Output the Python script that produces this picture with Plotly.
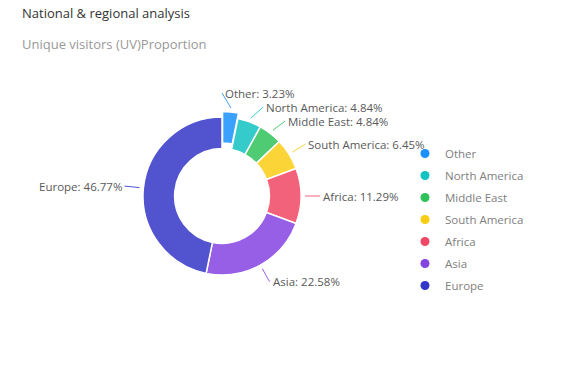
import math
import plotly.graph_objects as go

# ---- data ----
regions = ["Other", "North America", "Middle East", "South America", "Africa", "Asia", "Europe"]
visitors = [2, 3, 3, 4, 7, 14, 29]
base_colors = ["#1890FF", "#13C2C2", "#2FC25B", "#FACC14", "#F04864", "#8543E0", "#3436C7"]
pulls = [0.07, 0, 0, 0, 0, 0, 0]
title_text = "National & regional analysis"
subtitle_text = "Unique visitors (UV)Proportion"

# ---- layout constants (page pixels) ----
W, H = 571, 382
cx, cy, R = 222, 196, 79
HOLE = 0.6
SLICE_ALPHA = 0.85
FONT = "Open Sans"
LINE_START = 4
LINE_LEN = 19
LABEL_GAP = 14


def rgba(hexc, a):
    h = hexc.lstrip("#")
    r, g, b = int(h[0:2], 16), int(h[2:4], 16), int(h[4:6], 16)
    return f"rgba({r},{g},{b},{a})"


def px_to_paper(x, y):
    return x / W, 1 - y / H


total = sum(visitors)
pcts = [v / total * 100 for v in visitors]
maxpull = max(pulls)
Rd = R * (1 + maxpull)

fig = go.Figure()
x0d, y1d = px_to_paper(cx - Rd, cy - Rd)
x1d, y0d = px_to_paper(cx + Rd, cy + Rd)
fig.add_trace(go.Pie(
    labels=regions,
    values=visitors,
    sort=False,
    direction="clockwise",
    rotation=0,
    hole=HOLE,
    pull=pulls,
    textinfo="none",
    showlegend=False,
    marker=dict(colors=[rgba(c, SLICE_ALPHA) for c in base_colors],
                line=dict(color="white", width=1.5)),
    domain=dict(x=[x0d, x1d], y=[y0d, y1d]),
))

# legend entries with circular markers
for name, col in zip(regions, base_colors):
    fig.add_trace(go.Scatter(
        x=[None], y=[None], mode="markers", name=name, legendgroup=name,
        marker=dict(color=col, size=9, symbol="circle"),
    ))

# ---- label layout (radial, then de-overlap per side) ----
items = []
cum = 0
for name, v, p, col, pct in zip(regions, visitors, pulls, base_colors, pcts):
    mid = (cum + v / 2) / total * 2 * math.pi
    cum += v
    s, c = math.sin(mid), math.cos(mid)
    r0 = R * (1 + p) + LINE_START
    items.append(dict(name=name, col=col, pct=pct, s=s, c=c,
                      sx=cx + r0 * s, sy=cy - r0 * c,
                      y=cy - (R + LINE_LEN) * c, right=s >= 0))


def spread(group_items):
    group_items.sort(key=lambda d: d["y"])
    orig = [d["y"] for d in group_items]
    clusters = [[i] for i in range(len(orig))]

    def positions(cl):
        m = sum(orig[i] for i in cl) / len(cl)
        start = m - LABEL_GAP * (len(cl) - 1) / 2
        return [start + LABEL_GAP * k for k in range(len(cl))]

    changed = True
    while changed:
        changed = False
        pos = [positions(cl) for cl in clusters]
        for k in range(len(clusters) - 1):
            if pos[k + 1][0] - pos[k][-1] < LABEL_GAP:
                clusters[k] = clusters[k] + clusters[k + 1]
                del clusters[k + 1]
                changed = True
                break
    for cl in clusters:
        for i, y in zip(cl, positions(cl)):
            group_items[i]["y"] = y


spread([d for d in items if d["right"]])
spread([d for d in items if not d["right"]])

shapes = []
annotations = []
RL = R + LINE_LEN
for d in items:
    dy = d["y"] - cy
    dx = math.sqrt(RL ** 2 - dy ** 2) if abs(dy) < RL else 0
    ex = cx + dx if d["right"] else cx - dx
    ey = d["y"]
    px0, py0 = px_to_paper(d["sx"], d["sy"])
    px1, py1 = px_to_paper(ex, ey)
    shapes.append(dict(type="line", xref="paper", yref="paper",
                       x0=px0, y0=py0, x1=px1, y1=py1,
                       line=dict(color=rgba(d["col"], SLICE_ALPHA), width=1)))
    tx, ty = px_to_paper(ex + (1 if d["right"] else -1), ey)
    annotations.append(dict(
        xref="paper", yref="paper", x=tx, y=ty,
        xanchor="left" if d["right"] else "right", yanchor="middle",
        text=f"{d['name']}: {d['pct']:.2f}%", showarrow=False,
        font=dict(family=FONT, size=11.5, color="#595959"),
    ))

tx, ty = px_to_paper(20, 13)
annotations.append(dict(xref="paper", yref="paper", x=tx, y=ty, xanchor="left", yanchor="middle",
                        text=title_text, showarrow=False,
                        font=dict(family=FONT, size=13, color="#333333")))
tx, ty = px_to_paper(20, 44)
annotations.append(dict(xref="paper", yref="paper", x=tx, y=ty, xanchor="left", yanchor="middle",
                        text=subtitle_text, showarrow=False,
                        font=dict(family=FONT, size=13, color="#999999")))

lx, ly = px_to_paper(405, 139)
fig.update_layout(
    width=W, height=H,
    margin=dict(l=0, r=0, t=0, b=0),
    paper_bgcolor="white", plot_bgcolor="white",
    xaxis=dict(visible=False), yaxis=dict(visible=False),
    shapes=shapes, annotations=annotations,
    legend=dict(x=lx, y=ly, xanchor="left", yanchor="top",
                font=dict(family=FONT, size=11.5, color="#808080"),
                tracegroupgap=3, traceorder="grouped", itemclick=False),
    font=dict(family=FONT),
)

fig.write_html("out.html", config={"displayModeBar": False},
               post_script="document.body.style.margin='0';")
